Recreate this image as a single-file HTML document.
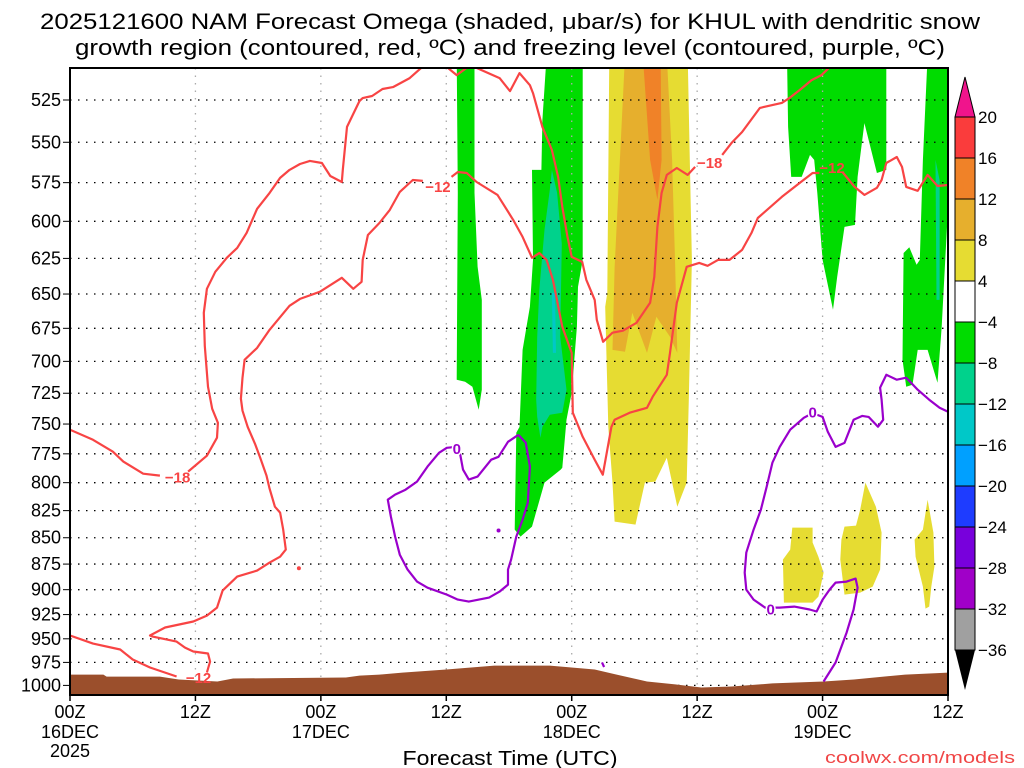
<!DOCTYPE html>
<html><head><meta charset="utf-8">
<style>
html,body{margin:0;padding:0;background:#fff;}
svg{display:block;font-family:"Liberation Sans",sans-serif;}
</style></head>
<body>
<svg id="chart" width="1024" height="768" viewBox="0 0 1024 768">
  <defs><clipPath id="plotclip"><rect x="70" y="68" width="878" height="627"/></clipPath></defs>
  <g>
    <text x="510" y="29" font-size="22" text-anchor="middle" textLength="940" lengthAdjust="spacingAndGlyphs">2025121600 NAM Forecast Omega (shaded, μbar/s) for KHUL with dendritic snow</text>
    <text x="510" y="55" font-size="22" text-anchor="middle" textLength="870" lengthAdjust="spacingAndGlyphs">growth region (contoured, red, ºC) and freezing level (contoured, purple, ºC)</text>
  </g>
  <g id="shade" clip-path="url(#plotclip)"></g>
  <g id="grid"></g>
  <g id="terrain" clip-path="url(#plotclip)"></g>
  <g id="contours" clip-path="url(#plotclip)"></g>
  <rect x="70" y="68" width="878" height="627" fill="none" stroke="#000" stroke-width="2"/>
  <g id="axes"></g>
  <g id="cbar"></g>
  <text x="510" y="765" font-size="20" text-anchor="middle" textLength="215" lengthAdjust="spacingAndGlyphs">Forecast Time (UTC)</text>
  <text x="1015" y="763" font-size="17" fill="#f04646" text-anchor="end" textLength="190" lengthAdjust="spacingAndGlyphs">coolwx.com/models</text>
</svg>
<script>
const pressureTicks=[525,550,575,600,625,650,675,700,725,750,775,800,825,850,875,900,925,950,975,1000];
const timeTicks=[0,12,24,36,48,60,72,84];
const timeLabels=["00Z","12Z","00Z","12Z","00Z","12Z","00Z","12Z"];
const dateLabels=["16DEC","","17DEC","","18DEC","","19DEC",""];
const cbarLevels=[20,16,12,8,4,-4,-8,-12,-16,-20,-24,-28,-32,-36];
const cbarColors=["#fa3c3c","#f08228","#e6af2d","#e6dc32","#ffffff","#00dc00","#00d28c","#00c8c8","#00a0ff","#1e3cff","#7800dc","#a000c8","#a0a0a0"];

const yellowMain=[[51.6,500],[59.1,500],[59.3,560.8],[59.5,626],[59.2,730.2],[59,799.9],[58.1,821.4],[57.1,778.3],[56,799.1],[55,799.9],[54.1,837.8],[52.1,835],[51.9,799.9],[51.5,752.4],[51.2,659.2],[51.4,649.1]];
const orangeLight=[[53.1,500],[57.1,500],[57.6,560.8],[57.9,630.8],[58.1,693.5],[57.4,681.3],[56.1,666.5],[55.2,693.5],[53.8,663.6],[53.1,692.7],[51.9,691.2],[52.1,631.5]];
const orangeDark=[[54.8,500],[56.5,500],[56.6,560.8],[56.2,586],[55.5,560.8]];
const greenA=[[37,500],[38.7,500],[38.7,581.5],[39,630.8],[39.4,654.2],[39.4,722.2],[39.1,738.3],[38.5,719.8],[37.8,715.9],[37,714.3],[37.1,581.5]];
const greenB=[[45.6,500],[49.05,500],[49.05,626],[48.6,644.9],[48.5,673.9],[48,724.6],[47.5,746.5],[47.1,786.9],[46.95,788.6],[45.4,799.9],[44.2,839.6],[43.1,848.9],[42.55,842.4],[42.7,757.2],[43,752.4],[43.3,691.2],[44,659.2],[44.3,626],[44.2,567],[45.1,567],[45.2,536.7]];
const tealB=[[46.1,567],[46.6,581.5],[47.05,615.1],[46.9,681.3],[47.5,722.2],[47.1,740.7],[45.9,742.3],[45.2,752.4],[45,761.4],[44.7,744.1],[44.6,730.2],[44.7,681.3],[44.9,647],[45.4,605.7],[45.9,579.6]];
const cyanB=[[46.1,649.1],[46.4,649.1],[46.5,693.5],[46.2,693.5]];
const greenC=[[68.6,500],[68.7,540.8],[69,571.4],[70,571.4],[70.8,557.7],[71.2,560.8],[71.5,581.5],[72,626],[73,661.4],[73.4,637.8],[74.1,603.7],[75.1,602.4],[75.35,571.4],[76,538.5],[77.2,568.9],[78.1,567],[78.1,500]];
const greenD=[[82.05,500],[81.6,560.8],[81.3,626],[81,629.4],[80.3,617.4],[79.75,621.3],[79.65,698.8],[80,719.8],[80.6,718.2],[81.1,691.2],[82.05,691.2],[83,716.7],[83.4,673.9],[83.9,603.7],[84.5,500]];
const tealD=[[82.8,560.8],[83.2,573.3],[83.2,654.2],[82.9,654.2]];
const yellowB1=[[69.1,840.6],[71.05,840.6],[71.05,854.5],[71.6,867.9],[72.1,883.2],[71.6,906.9],[71.05,912.9],[68.3,912.9],[68.2,870.7],[68.9,861.2]];
const yellowB2=[[74.1,839.6],[75.2,838.7],[75.6,824.1],[76.1,799.9],[77.1,821.4],[77.65,845.2],[77.5,880.3],[76.8,897],[75.6,902.9],[74.1,904.9],[73.7,870.7],[73.8,851.7]];
const yellowB3=[[82.05,815.1],[82.6,845.2],[82.7,877.4],[82.4,897],[82.2,916.9],[81.85,918.9],[81.6,897],[80.9,867.9],[80.8,851.7],[81.6,842.4]];

const terrainTop=[[0,988.2],[3.2,988.2],[3.5,990.4],[8.6,990.4],[10.4,993.5],[14.1,995.7],[15.6,992.4],[26.4,991.3],[27.7,989.3],[29.6,988.2],[31.8,986],[36,982.7],[40.6,978.4],[45.9,978.4],[50.2,982.7],[52.3,988.2],[55.2,995.7],[57.9,998.9],[60.4,1002.3],[63.3,1001.2],[67.2,997.8],[72.1,995.7],[75,993.5],[79.9,988.2],[84,986]];

const red18Left=[[0,754.7],[2.2,763.1],[4.1,773.2],[5.1,781.7],[7,792.1],[8.6,793.8]];
const red18Arc=[[11.3,790.3],[13.1,776.6],[14.06,761.4],[14.15,749],[13.6,737.5],[13.2,719.8],[12.9,688.2],[12.8,663.6],[13.1,646.3],[13.9,634.3],[15,624.6],[16,617.8],[16.9,607.7],[17.9,591.8],[19.1,581.5],[20.1,572],[21,567],[22,563.3],[22.95,561.4],[24.1,562.7],[24.9,570.8],[26,574.6],[26.1,567],[26.5,540.8],[27.7,525.6],[28,523.9],[28.9,522.7],[29.9,518.7],[30.9,517.6],[32.5,512.5],[33.7,506.3],[34.2,502]];
const red18Dip=[[35.8,502],[36.05,506.3],[37,510.8],[38.06,506.3],[38.3,502]];
const red18Center=[[38.5,502],[38.7,506.3],[41.1,512.5],[42.1,519.9],[43,509.7],[44,516.5],[44.3,521],[45.2,540.8],[46.1,554.7],[46.7,571.4],[47.1,590.5],[47.6,610.4],[48,624],[49,627.4],[49.4,639.9],[50.2,654.2],[50.4,668.7],[51,685.1],[51.9,678.3],[52.9,676.8],[54.2,670.9],[55.5,656.3],[55.9,637.8],[56.2,603.7],[56.6,581.5],[57.1,570.1],[58.05,565.8],[59.1,570.1],[59.8,565.1]];
const red18Right=[[62.4,557.7],[63.3,550.4],[64.3,543.8],[66,529.6],[68.1,526.7],[68.85,523.8],[69.8,519.3],[70.95,513.6],[71.9,510.8],[72.7,506.3],[73.2,502]];
const red12Left=[[0,946.6],[2.2,955],[4.8,961.3],[6,971.9],[7.65,980.5],[10.2,990.2]];
const red12Main=[[13.1,985.9],[13.4,974.1],[13.2,965.5],[11.8,963.4],[11,959.2],[10.2,952.9],[7.9,947.7],[7.65,946.6],[9.1,938.3],[10,936.2],[11.8,932.1],[13.1,926],[14.06,917.9],[14.6,900.9],[16,887.1],[17.9,881.3],[19.1,873.6],[20.1,867.9],[20.65,861.2],[20.4,842.4],[20.1,826.8],[19.6,821.4],[19.1,805.3],[18.8,793.8],[18.2,778.3],[17.7,766.5],[17,752.4],[16.5,739.1],[16.35,729.4],[16.5,712.7],[16.7,698.8],[17.9,689.7],[19.1,676.1],[21,658.5],[22,653.5],[23.9,648.4],[26,638.5],[27.1,646.3],[27.9,641.3],[28,626],[28.5,609.1],[29.6,601.1],[30.6,592.5],[31.55,580.9],[32.8,573.3],[33.75,573.9]];
const red12Mid=[[36.5,571.4],[37.1,568.3],[37.96,568.9],[38.9,574.6],[40.9,582.8],[42.4,599.1],[43.3,610.4],[44.2,624.6],[44.9,621.3],[45.6,626],[46.2,639.9],[47.1,673.9],[48,693.5],[48.1,740.7],[49.05,760.6],[50.2,780],[50.97,793],[51.8,752.4],[52.1,746.5],[53.55,740.7],[55.2,736.7],[55.75,727.8],[57.1,710.4],[57.4,693.5],[58.05,656.3],[59,630.8],[60.2,628.1],[61,630.1],[62,626],[63.1,626],[64.3,619.2],[65.2,607.7],[65.8,597.8],[68.1,584.1],[69.8,575.2],[71.05,568.9],[71.7,568.9]];
const red12Right=[[73.9,568.3],[75.06,577.7],[76,582.8],[77.2,578.3],[77.65,573.3],[78.1,562.7],[79.1,559],[79.6,565.1],[80,577.7],[81.1,580.2],[82.05,570.1],[83,577.1],[84,576.5]];
const redDot=[[21.9,879]];
const redLabels=[[10.3,795.6,"−18"],[61.2,562.7,"−18"],[12.3,991.7,"−12"],[35.2,577.7,"−12"],[72.9,565.8,"−12"]];

const purpleLeft=[[42.9,758.9],[43.6,765.6],[44,786],[43.8,817.8],[43.3,833.2],[42.7,848.9],[42.2,870.7],[41.9,880.3],[41.9,895],[41.1,901.9],[40.1,907.9],[38.15,911.9],[37.1,909.9],[36.05,904.9],[34.2,898],[33.2,892],[32.3,880.3],[31.55,866],[31.1,848.9],[30.7,830.5],[30.4,815.1],[31.1,810.6],[32.1,806.2],[33.2,799.1],[34.2,786],[35.3,774.1],[36.05,769.9],[37,769],[37.3,774.1],[37.6,788.6],[38.15,797.3],[39,794.7],[40.3,780],[41,777.5],[41.9,764.8],[42.9,758.9]];
const purpleRight=[[72.1,995.7],[73.25,975.1],[74.3,943.5],[74.97,919.9],[75.35,898],[75.16,889.1],[74.3,892],[73.25,893],[72.67,899.9],[72,909.9],[71.43,921.9],[70.76,919.9],[69.3,916.9],[67.9,917.9],[66.5,917.9],[65.4,909.9],[64.7,899.9],[64.55,883.2],[64.7,864],[65.4,842.4],[66.1,824.1],[66.65,803.5],[67.2,782.6],[67.9,769.1],[68.9,754.7],[70.2,744.9],[71.05,741],[72,744.1],[72.5,756.4],[73.25,769.1],[74.1,765.7],[74.97,746.5],[75.8,743.3],[76.4,744.1],[77.3,752.2],[77.8,746.5],[77.65,730.2],[77.5,720.6],[78.1,710.4],[79.1,714.3],[80,712.7],[81.1,722.2],[82.2,730.2],[83.2,736.7],[84,739.9]];
const purpleTick=[[50.9,975],[51.1,980]];
const purpleDot=[[41,843.3]];
const purpleLabels=[[37,770.7,"0"],[67.03,919.9,"0"],[71.05,740.7,"0"]];

const X0=70,X1=948,HMAX=84;
function X(h){return X0+h*(X1-X0)/HMAX;}
function Y(p){return 100+908.5*Math.log(p/525);}
const NS="http://www.w3.org/2000/svg";
function mk(tag,attrs,parent){const e=document.createElementNS(NS,tag);for(const k in attrs)e.setAttribute(k,attrs[k]);parent.appendChild(e);return e;}
function pts(a){return a.map(d=>X(d[0]).toFixed(1)+","+Y(d[1]).toFixed(1)).join(" ");}

const shade=document.getElementById('shade');
function poly(arr,color,name){const e=mk('polygon',{points:pts(arr),fill:color},shade);

}
poly(yellowMain,"#e6dc32","omega-4-8-main");
poly(orangeLight,"#e6af2d","omega-8-12");
poly(orangeDark,"#f08228","omega-12-16");
poly(greenA,"#00dc00","omega-neg4-a");
poly(greenB,"#00dc00","omega-neg4-b");
poly(tealB,"#00d28c","omega-neg8-b");
poly(cyanB,"#00c8c8","omega-neg12-b");
poly(greenC,"#00dc00","omega-neg4-c");
poly(greenD,"#00dc00","omega-neg4-d");
poly(tealD,"#00d28c","omega-neg8-d");
poly(yellowB1,"#e6dc32","omega-4-8-blob1");
poly(yellowB2,"#e6dc32","omega-4-8-blob2");
poly(yellowB3,"#e6dc32","omega-4-8-blob3");

const grid=document.getElementById('grid');
pressureTicks.forEach(p=>{const l=mk('line',{x1:X0,x2:X1,y1:Y(p),y2:Y(p),stroke:"#000","stroke-width":1.3,"stroke-dasharray":"1.5 6.5"},grid);

});
timeTicks.forEach(h=>{if(h===0||h===HMAX)return;const l=mk('line',{x1:X(h),x2:X(h),y1:68,y2:695,stroke:"#aaa","stroke-width":1.3,"stroke-dasharray":"1.5 6"},grid);

});

const terr=document.getElementById('terrain');
const tp=terrainTop.map(d=>[d[0],d[1]]);tp.push([84,1020],[0,1020]);
const te=mk('polygon',{points:pts(tp),fill:"#9b4f2c"},terr);



const cg=document.getElementById('contours');
function line(arr,color,name){const e=mk('polyline',{points:pts(arr),fill:"none",stroke:color,"stroke-width":2.2,"stroke-linejoin":"round"},cg);

}
const RED="#f84444",PUR="#9a00cc";
line(red18Left,RED,"contour-neg18-left");
line(red18Arc,RED,"contour-neg18-arc");
line(red18Dip,RED,"contour-neg18-dip");
line(red18Center,RED,"contour-neg18-center");
line(red18Right,RED,"contour-neg18-right");
line(red12Left,RED,"contour-neg12-left");
line(red12Main,RED,"contour-neg12-main");
line(red12Mid,RED,"contour-neg12-mid");
line(red12Right,RED,"contour-neg12-right");
line(purpleLeft,PUR,"freezing-level-left");
line(purpleRight,PUR,"freezing-level-right");
line(purpleTick,PUR,"freezing-level-tick");
redDot.forEach(d=>{const c=mk('circle',{cx:X(d[0]),cy:Y(d[1]),r:2,fill:RED},cg);

});
purpleDot.forEach(d=>{const c=mk('circle',{cx:X(d[0]),cy:Y(d[1]),r:2,fill:PUR},cg);

});
redLabels.forEach(d=>{const t=mk('text',{x:X(d[0]),y:Y(d[1])+5,fill:RED,"font-size":15,"font-weight":"bold","text-anchor":"middle"},cg);t.textContent=d[2];

});
purpleLabels.forEach(d=>{const t=mk('text',{x:X(d[0]),y:Y(d[1])+5,fill:PUR,"font-size":15,"font-weight":"bold","text-anchor":"middle",stroke:"#fff","stroke-width":3,"paint-order":"stroke"},cg);t.textContent=d[2];

});

const ax=document.getElementById('axes');
pressureTicks.forEach(p=>{const t=mk('text',{x:61,y:Y(p)+6,"font-size":18,"text-anchor":"end"},ax);t.textContent=p;


const k=mk('line',{x1:63,x2:70,y1:Y(p),y2:Y(p),stroke:"#000","stroke-width":1},ax);

});
timeTicks.forEach((h,i)=>{const k=mk('line',{x1:X(h),x2:X(h),y1:695,y2:701,stroke:"#000","stroke-width":1.5},ax);


const t=mk('text',{x:X(h),y:718,"font-size":18,"text-anchor":"middle"},ax);t.textContent=timeLabels[i];


if(dateLabels[i]){const d=mk('text',{x:X(h),y:738,"font-size":18,"text-anchor":"middle"},ax);d.textContent=dateLabels[i];

}});
const yr=mk('text',{x:X(0),y:757,"font-size":18,"text-anchor":"middle"},ax);yr.textContent="2025";



const cb=document.getElementById('cbar');
const CB0=117,CBS=41.0,CX=955,CW=20;
cbarColors.forEach((c,i)=>{const r=mk('rect',{x:CX,y:CB0+i*CBS,width:CW,height:CBS,fill:c,stroke:"#000","stroke-width":1},cb);

});
const cbTop=mk('polygon',{points:`${CX},${CB0} ${CX+CW},${CB0} ${CX+CW/2},${CB0-40}`,fill:"#f0148c",stroke:"#000","stroke-width":1},cb);


const yb=CB0+cbarColors.length*CBS;
const cbBot=mk('polygon',{points:`${CX},${yb} ${CX+CW},${yb} ${CX+CW/2},${yb+40}`,fill:"#000"},cb);


cbarLevels.forEach((v,i)=>{const t=mk('text',{x:978,y:CB0+i*CBS+6,"font-size":17},cb);t.textContent=(v<0?"−"+(-v):String(v));

});
</script>
</body></html>
